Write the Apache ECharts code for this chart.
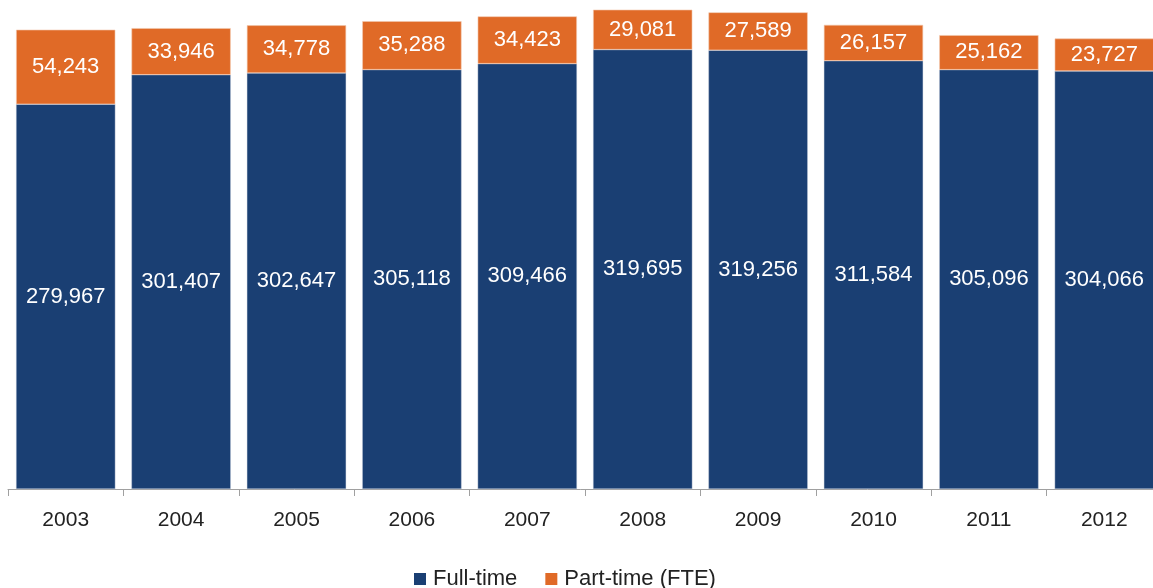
<!DOCTYPE html>
<html><head><meta charset="utf-8">
<script src="https://cdn.jsdelivr.net/npm/echarts@6/dist/echarts.min.js"></script>
<style>html,body{margin:0;padding:0;background:#fff}#c{width:1153px;height:588px}</style>
</head><body><div id="c"></div>
<script>
const categories = ['2003','2004','2005','2006','2007','2008','2009','2010','2011','2012'];
const fullTime = [279967,301407,302647,305118,309466,319695,319256,311584,305096,304066];
const partTime = [54243,33946,34778,35288,34423,29081,27589,26157,25162,23727];
const seriesNames = ['Full-time','Part-time (FTE)'];

const fmt = v => v.toLocaleString('en-US');
const FONT = 'Liberation Sans, Arial, sans-serif';
const chart = echarts.init(document.getElementById('c'), null, {renderer:'canvas'});
const lbl = {show:true, position:'inside', color:'#fff', fontFamily:FONT, fontSize:22, formatter:p=>fmt(p.value)};
chart.setOption({
  animation:false,
  grid:{left:8, width:1154, top:8, bottom:99, containLabel:false, outerBoundsMode:'none'},
  legend:{top:563, left:409, itemWidth:12, itemHeight:12, itemGap:28, icon:'rect',
    itemStyle:{borderWidth:0},
    textStyle:{fontFamily:FONT, fontSize:22, color:'#222', padding:[0,0,0,2]},
    data:seriesNames},
  xAxis:{type:'category', data:categories,
    axisLine:{lineStyle:{color:'#a0a0a0', width:1}},
    axisTick:{show:true, length:7, lineStyle:{color:'#a0a0a0'}},
    axisLabel:{fontFamily:FONT, fontSize:21, color:'#222', margin:21}},
  yAxis:{type:'value', min:0, max:350000, show:false, splitLine:{show:false}},
  series:[
    {name:seriesNames[0], type:'bar', stack:'t', data:fullTime, barCategoryGap:'14%',
     itemStyle:{color:'#1a3f73', borderColor:'#c9d1dd', borderWidth:0.4}, label:lbl},
    {name:seriesNames[1], type:'bar', stack:'t', data:partTime, barCategoryGap:'14%',
     itemStyle:{color:'#e06a27', borderColor:'#f2c9b0', borderWidth:0.6}, label:lbl}
  ]
});
</script></body></html>
